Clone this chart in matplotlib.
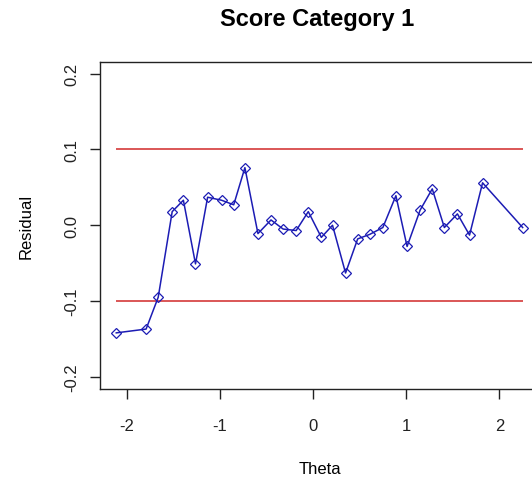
import matplotlib
matplotlib.use("Agg")
import matplotlib.pyplot as plt

# theta values and residuals
theta = [-2.11, -1.79, -1.66, -1.51, -1.39, -1.26, -1.13, -0.98, -0.85, -0.73,
         -0.59, -0.45, -0.32, -0.18, -0.05, 0.09, 0.21, 0.35, 0.48, 0.61,
         0.75, 0.89, 1.01, 1.15, 1.28, 1.41, 1.55, 1.68, 1.82, 2.25]
residual = [-0.142, -0.137, -0.095, 0.018, 0.033, -0.051, 0.037, 0.033, 0.027, 0.076,
            -0.011, 0.007, -0.005, -0.007, 0.018, -0.016, 0.000, -0.063, -0.018, -0.012,
            -0.003, 0.039, -0.028, 0.020, 0.048, -0.003, 0.015, -0.013, 0.056, -0.003]
limits = [-0.1, 0.1]
x_ticks = [-2, -1, 0, 1, 2]
y_ticks = [-0.2, -0.1, 0.0, 0.1, 0.2]
y_ticklabels = ["-0.2", "-0.1", "0.0", "0.1", "0.2"]

plt.rcParams['font.family'] = ['Liberation Sans', 'DejaVu Sans']

fig = plt.figure(figsize=(5.32, 4.85), dpi=100)
ax = fig.add_axes([0.188, 0.196, 0.825, 0.675])

for lim in limits:
    ax.hlines(lim, min(theta), max(theta), color='#d43a3a', lw=1.2)

ax.plot(theta, residual, color='#1c1cb4', lw=1.1, marker='D', markersize=5.5,
        markerfacecolor='none', markeredgecolor='#1c1cb4', markeredgewidth=0.9)

span = max(theta) - min(theta)
ax.set_xlim(min(theta) - 0.04 * span, max(theta) + 0.04 * span)
ax.set_ylim(-0.216, 0.216)

ax.set_xticks(x_ticks)
ax.set_xticklabels([str(t) for t in x_ticks])
ax.set_yticks(y_ticks)
ax.set_yticklabels(y_ticklabels, rotation=90, va='center')

ax.tick_params(direction='out', length=7, width=1, labelsize=12, colors='#222222')
ax.tick_params(axis='x', pad=14)
ax.tick_params(axis='y', pad=8)
for s in ax.spines.values():
    s.set_linewidth(1)
    s.set_color('#222222')

ax.set_xlabel('Theta', fontsize=12, labelpad=20)
ax.set_ylabel('Residual', fontsize=12, labelpad=22)
fig.text(0.597, 0.96, 'Score Category 1', ha='center', va='center',
         fontsize=17, fontweight='bold')

fig.savefig('out.png', dpi=100)
